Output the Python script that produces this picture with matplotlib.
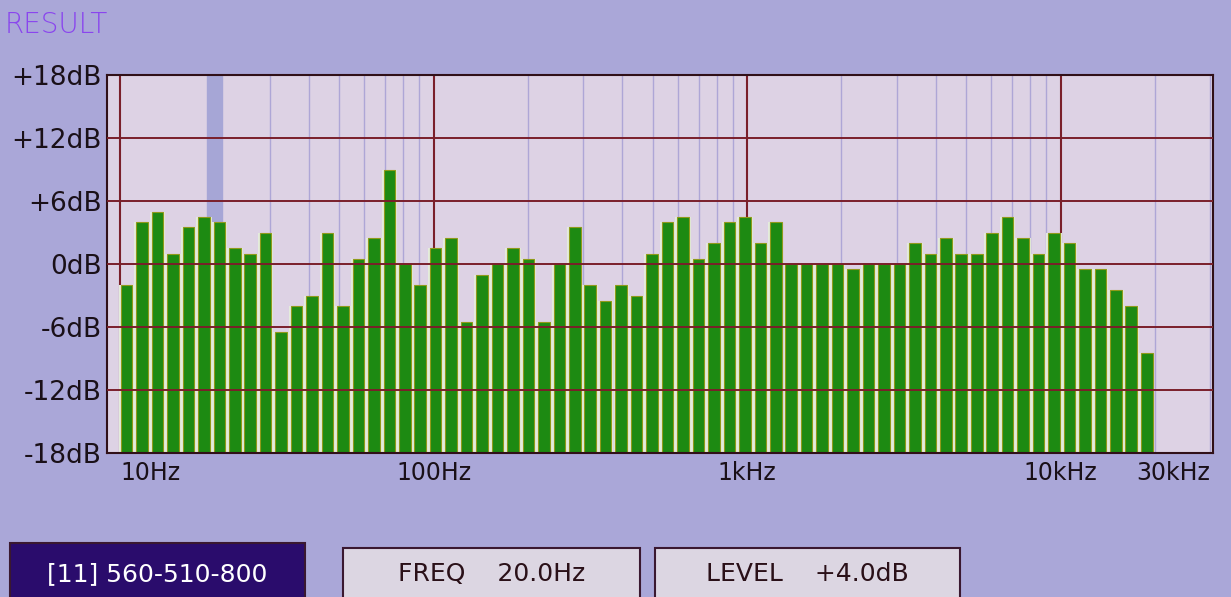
import numpy as np
import matplotlib
matplotlib.use("Agg")
import matplotlib.pyplot as plt
from matplotlib.patches import Rectangle

# band centre frequencies (Hz) (roughly 1/6 octave)
freqs = [10.5, 11.76, 13.18, 14.76, 16.53, 18.52, 20.75, 23.24, 26.03, 29.16,
         32.67, 36.6, 41.0, 45.9, 51.4, 57.6, 64.5, 72.3, 81.0, 90.7,
         101.6, 113.8, 127.5, 142.8, 160, 179, 201, 225, 252, 282,
         316, 354, 397, 444, 498, 558, 625, 700, 784, 878,
         984, 1102, 1234, 1383, 1549, 1735, 1944, 2177, 2439, 2732,
         3060, 3428, 3840, 4302, 4819, 5398, 6047, 6774, 7588, 8500,
         9522, 10667, 11949, 13385, 14994, 16796, 18815]

# level per band (dB)
levels = [-2, 4, 5, 1, 3.5, 4.5, 4, 1.5, 1, 3,
          -6.5, -4, -3, 3, -4, 0.5, 2.5, 9, 0, -2,
          1.5, 2.5, -5.5, -1, 0, 1.5, 0.5, -5.5, 0, 3.5,
          -2, -3.5, -2, -3, 1, 4, 4.5, 0.5, 2, 4,
          4.5, 2, 4, 0, 0, 0, 0, -0.5, 0, 0,
          0, 2, 1, 2.5, 1, 1, 3, 4.5, 2.5, 1,
          3, 2, -0.5, -0.5, -2.5, -4, -8.5]

y_ticks = [18, 12, 6, 0, -6, -12, -18]
y_labels = ["+18dB", "+12dB", "+6dB", "0dB", "-6dB", "-12dB", "-18dB"]
x_ticks = [10, 100, 1000, 10000, 30000]
x_labels = ["10Hz", "100Hz", "1kHz", "10kHz", "30kHz"]

cursor_band = (18.9, 21.2)  # highlighted column at FREQ 20.0Hz
title = "RESULT"
box_texts = ["[11] 560-510-800", "FREQ    20.0Hz", "LEVEL    +4.0dB"]

screen_bg = "#aaa7d8"
plot_bg = "#ddd2e4"
bar_green = "#1d8a12"
grid_red = "#7a1f2a"
minor_col = "#aea6d6"

fig = plt.figure(figsize=(12.31, 5.97), dpi=100, facecolor=screen_bg)
ax = fig.add_axes([0.087, 0.241, 0.898, 0.633])
ax.set_facecolor(plot_bg)
ax.set_xscale("log")
ax.set_xlim(9.1, 30500)
ax.set_ylim(-18, 18)

# bars, width fixed in log space; pale strip behind them gives the light gaps
half = 0.0185
f = np.array(freqs)
left = f * 10 ** (-half)
width = f * 10 ** half - left
lv = np.array(levels)
gap_left = f * 10 ** (-0.0247)
gap_width = f * 10 ** 0.0247 - gap_left
ax.bar(gap_left, lv + 18, width=gap_width, bottom=-18, align="edge",
       color="#e4ecdc", linewidth=0, zorder=1.5)
ax.bar(left, lv + 18, width=width, bottom=-18, align="edge",
       color=bar_green, edgecolor="#8f9a1a", linewidth=0.8, zorder=2)

ax.axvspan(cursor_band[0], cursor_band[1], color="#a6a6d6", zorder=0.6)

# vertical grid under the bars, horizontal grid on top
for dec in [10, 100, 1000, 10000]:
    for m in range(2, 10):
        if dec * m <= 30000:
            ax.axvline(dec * m, color=minor_col, lw=1.0, zorder=0.5)
for x in [10, 100, 1000, 10000]:
    ax.axvline(x, color=grid_red, lw=1.5, zorder=0.8)
for y in y_ticks[1:-1]:
    ax.axhline(y, color=grid_red, lw=1.4, zorder=3)

for s in ax.spines.values():
    s.set_color("#301018")
    s.set_linewidth(1.5)

ax.set_yticks(y_ticks)
ax.set_yticklabels(y_labels, fontsize=19, color="#1a1018")
ax.set_xticks(x_ticks)
ax.set_xticklabels(x_labels, fontsize=17, color="#1a1018")
ax.xaxis.set_minor_locator(plt.NullLocator())
ax.tick_params(length=0, pad=4)
ax.tick_params(axis="x", pad=6)
xl = ax.get_xticklabels()
xl[0].set_ha("left")
xl[-1].set_ha("right")

fig.text(0.004, 0.958, title, fontsize=20, color="#8a45ee", va="center",
         ha="left", fontweight="light")

# status boxes along the bottom
boxes = [(10, 295, "#2a0c6c", "white"),
         (343, 297, "#dcd6e2", "#2a1018"),
         (655, 305, "#dcd6e2", "#2a1018")]
for (x0, w, fc, tc), txt in zip(boxes, box_texts):
    y_top = 543 if fc == "#2a0c6c" else 548
    fig.patches.append(Rectangle((x0 / 1231, -0.02), w / 1231,
                                 (597 - y_top) / 597 + 0.02,
                                 transform=fig.transFigure, facecolor=fc,
                                 edgecolor="#3a1830", lw=1.5))
    fig.text((x0 + w / 2) / 1231, (597 - 574) / 597, txt, fontsize=18,
             color=tc, ha="center", va="center")

fig.savefig("out.png", dpi=100, facecolor=screen_bg)
